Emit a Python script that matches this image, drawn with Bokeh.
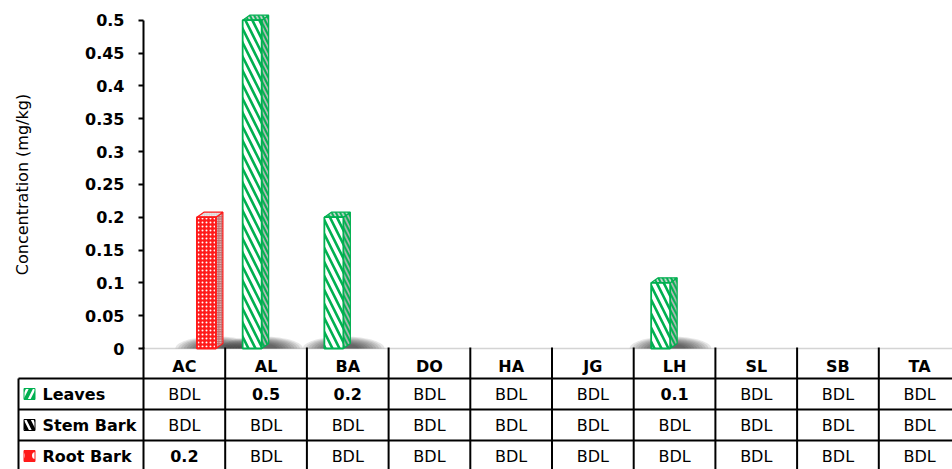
import numpy as np
from bokeh.plotting import figure
from bokeh.models import Range1d, FixedTicker, NumeralTickFormatter, ColumnDataSource, LinearAxis
from bokeh.core.properties import value, field
from bokeh.embed import file_html
from bokeh.resources import INLINE

# ---- data ----
categories = ["AC", "AL", "BA", "DO", "HA", "JG", "LH", "SL", "SB", "TA"]
leaves = [0, 0.5, 0.2, 0, 0, 0, 0.1, 0, 0, 0]
stem_bark = [0, 0, 0, 0, 0, 0, 0, 0, 0, 0]
root_bark = [0.2, 0, 0, 0, 0, 0, 0, 0, 0, 0]
series_names = ["Leaves", "Stem Bark", "Root Bark"]
y_ticks = [0, 0.05, 0.1, 0.15, 0.2, 0.25, 0.3, 0.35, 0.4, 0.45, 0.5]

# ---- layout constants (pixels) ----
WIDTH, HEIGHT = 952, 469
COL = 81.7        # px per category
PX = 656.6        # px per unit of concentration
LEFT = 143        # x pixel of category origin / y axis
BASE = 348        # y pixel of zero
ROW0 = 347.0      # y pixel of table top
ROW = 31.0        # table row height (px)
FONT = "DejaVu Sans"
GREEN = "#00B050"
RED = "#FF1A1A"


def ry(r):
    """table row coordinate -> data y"""
    return (BASE - (ROW0 + ROW * r)) / PX


def cx(px):
    return (px - LEFT) / COL


p = figure(width=WIDTH, height=HEIGHT, output_backend="svg", toolbar_location=None,
           x_range=Range1d(cx(0), cx(WIDTH)),
           y_range=Range1d((BASE - HEIGHT) / PX, BASE / PX),
           x_axis_location=None, y_axis_location=None,
           min_border_left=0, min_border_right=0, min_border_top=0, min_border_bottom=0)
p.outline_line_color = None
p.grid.visible = False

ax = LinearAxis(fixed_location=0)
ax.ticker = FixedTicker(ticks=y_ticks)
ax.formatter = NumeralTickFormatter(format="0.[00]")
ax.bounds = (0, 0.5)
ax.axis_line_color = "black"
ax.axis_line_width = 2
ax.major_tick_line_width = 2
ax.major_tick_out = 5
ax.major_tick_in = 0
ax.minor_tick_line_color = None
ax.major_label_standoff = 14
ax.major_label_text_font = FONT
ax.major_label_text_font_style = "bold"
ax.major_label_text_font_size = "16px"
ax.major_label_text_color = "black"
ax.axis_label = "Concentration (mg/kg)"
ax.axis_label_text_font = FONT
ax.axis_label_text_font_style = "normal"
ax.axis_label_text_font_size = "16px"
ax.axis_label_text_color = "black"
ax.axis_label_standoff = 50
p.add_layout(ax, "left")

# floor line
p.segment(x0=[0], y0=[0], x1=[cx(WIDTH)], y1=[0], line_color="#d4d4d4", line_width=1.5)

W = 19 / COL
DX = 7 / COL
DY = 5 / PX
offsets = [0.33, 0.55, 0.77]
styles = [
    dict(line=GREEN, front_fill="white", hatch=GREEN, pattern="left_diagonal_line", scale=14, weight=2.6,
         side_fill="#b8b8b8"),
    dict(line="black", front_fill="white", hatch="black", pattern="left_diagonal_line", scale=14, weight=2.6,
         side_fill="#b8b8b8"),
    dict(line=RED, front_fill=RED, hatch="white", pattern="dot", scale=4, weight=2.5,
         side_fill="#c07070"),
]
all_series = [leaves, stem_bark, root_bark]

# soft shadows on the floor (upper half-ellipses, many faint layers)
theta = np.linspace(0, np.pi, 48)
layers = [(0.50 - 0.035 * k, 12 - 0.8 * k) for k in range(10)]
for vals, off in zip(all_series, offsets):
    idx = [i for i, v in enumerate(vals) if v > 0]
    for i in idx:
        c = i + off + 0.12
        xs, ys = [], []
        for rx, rh in layers:
            xs.append(list(c + rx * np.cos(theta)))
            ys.append(list((rh / PX) * np.sin(theta)))
        p.patches(xs=xs, ys=ys, fill_color="#262626", fill_alpha=0.11, line_color=None)

for vals, off, st in zip(all_series, offsets, styles):
    idx = [i for i, v in enumerate(vals) if v > 0]
    if not idx:
        continue
    x0 = [i + off - W / 2 for i in idx]
    tops = [vals[i] for i in idx]
    side_xs = [[a + W, a + W + DX, a + W + DX, a + W] for a in x0]
    side_ys = [[0, DY, t + DY, t] for t in tops]
    p.patches(xs=side_xs, ys=side_ys, fill_color=st["side_fill"], hatch_pattern=st["pattern"],
              hatch_color=st["hatch"], hatch_scale=st["scale"] * 0.6, hatch_weight=st["weight"] * 0.8,
              line_color=st["line"], line_width=1.2)
    top_xs = [[a, a + W, a + W + DX, a + DX] for a in x0]
    top_ys = [[t, t, t + DY, t + DY] for t in tops]
    p.patches(xs=top_xs, ys=top_ys, fill_color="#d8d8d8", hatch_pattern=st["pattern"],
              hatch_color=st["hatch"], hatch_scale=st["scale"] * 0.6, hatch_weight=st["weight"] * 0.8,
              line_color=st["line"], line_width=1.2)
    p.quad(left=x0, right=[a + W for a in x0], bottom=[0] * len(x0), top=tops,
           fill_color=st["front_fill"], hatch_pattern=st["pattern"], hatch_color=st["hatch"],
           hatch_scale=st["scale"], hatch_weight=st["weight"],
           line_color=st["line"], line_width=1.8)

# ---- data table ----
n = len(categories)
LEG_LEFT = cx(18)
p.segment(x0=list(range(n + 1)), y0=[ry(0)] * (n + 1), x1=list(range(n + 1)), y1=[ry(4)] * (n + 1),
          line_color="black", line_width=2)
p.segment(x0=[LEG_LEFT], y0=[ry(1)], x1=[LEG_LEFT], y1=[ry(4)], line_color="black", line_width=2)
p.segment(x0=[LEG_LEFT] * 3, y0=[ry(1), ry(2), ry(3)], x1=[n] * 3, y1=[ry(1), ry(2), ry(3)],
          line_color="black", line_width=2)

p.text(x=[i + 0.5 for i in range(n)], y=[ry(0.62)] * n, text=categories,
       text_font=value(FONT), text_font_style="bold", text_font_size="16px",
       text_align="center", text_baseline="middle", text_color="black")

tx, ty, tt, ts = [], [], [], []
for r, vals in enumerate(all_series):
    for i, v in enumerate(vals):
        tx.append(i + 0.5)
        ty.append(ry(r + 1.5))
        if v > 0:
            tt.append(str(v))
            ts.append("bold")
        else:
            tt.append("BDL")
            ts.append("normal")
src = ColumnDataSource(dict(x=tx, y=ty, t=tt, s=ts))
p.text(x="x", y="y", text="t", source=src, text_font=value(FONT), text_font_style=field("s"),
       text_font_size="16px", text_align="center", text_baseline="middle", text_color="black")

key_styles = [
    dict(fill=GREEN, hatch="white", pattern="right_diagonal_line", line=GREEN),
    dict(fill="black", hatch="white", pattern="left_diagonal_line", line="black"),
    dict(fill=RED, hatch="white", pattern="dot", line=RED),
]
for r, ks in enumerate(key_styles):
    p.scatter(x=[cx(29)], y=[ry(r + 1.5)], marker="square", size=11, fill_color=ks["fill"],
              hatch_pattern=ks["pattern"], hatch_color=ks["hatch"], hatch_scale=14, hatch_weight=2.5,
              line_color=ks["line"], line_width=1)
p.text(x=[cx(42)] * 3, y=[ry(1.5), ry(2.5), ry(3.5)], text=series_names,
       text_font=value(FONT), text_font_style="bold", text_font_size="16px",
       text_align="left", text_baseline="middle", text_color="black")

open("out.html", "w").write(file_html(p, INLINE))
